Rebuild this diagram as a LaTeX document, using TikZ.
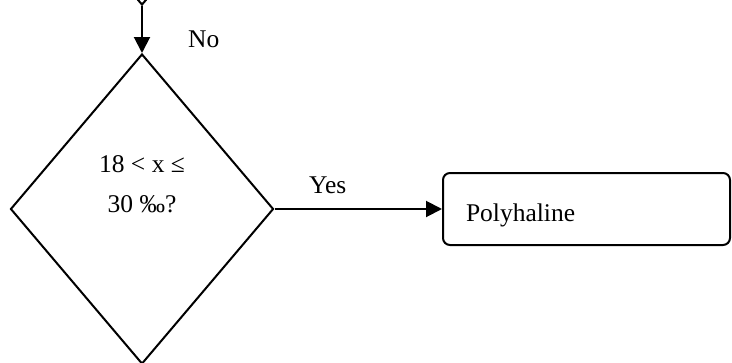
\documentclass[tikz,border=0pt]{standalone}
\usepackage{fontspec}
\setmainfont{Liberation Serif}
\usetikzlibrary{shapes.geometric,arrows.meta}

\tikzset{
  flowline/.style={line width=2pt, draw=black},
  arrow/.style={flowline, -{Triangle[length=16pt,width=16pt]}},
  decision/.style={diamond, draw=black, line width=2pt, inner sep=0pt,
    minimum width=263pt, minimum height=310pt},
  outcome/.style={rectangle, rounded corners=7pt, draw=black, line width=2pt,
    minimum width=287pt, minimum height=72pt, inner xsep=23pt, inner ysep=0pt,
    text width=241pt, align=left, text height=29pt, text depth=5pt},
  txt/.style={font=\fontsize{25.5}{40}\selectfont, inner sep=0pt},
}

\begin{document}
\begin{tikzpicture}[x=1pt, y=-1pt]
  \useasboundingbox (0,0) rectangle (732,362);

  % preceding decision, only its lower tip is visible
  \node[decision] (prev) at (142,-150) {};
  % current decision
  \node[decision] (dec) at (142,209) {};
  \node[txt, align=center, anchor=base] (q) at (142,212) {18 < x ≤\\30 ‰?};

  % outcome box
  \node[outcome, txt, inner xsep=23pt] (poly) at (586.5,209) {Polyhaline};

  % connectors
  \draw[arrow] (prev.south) -- (dec.north);
  \draw[arrow] (dec.east) -- (poly.west);

  % branch labels
  \node[txt, anchor=base west] (no) at (188,47) {No};
  \node[txt, anchor=base west] (yes) at (309,193) {Yes};
\end{tikzpicture}
\end{document}
